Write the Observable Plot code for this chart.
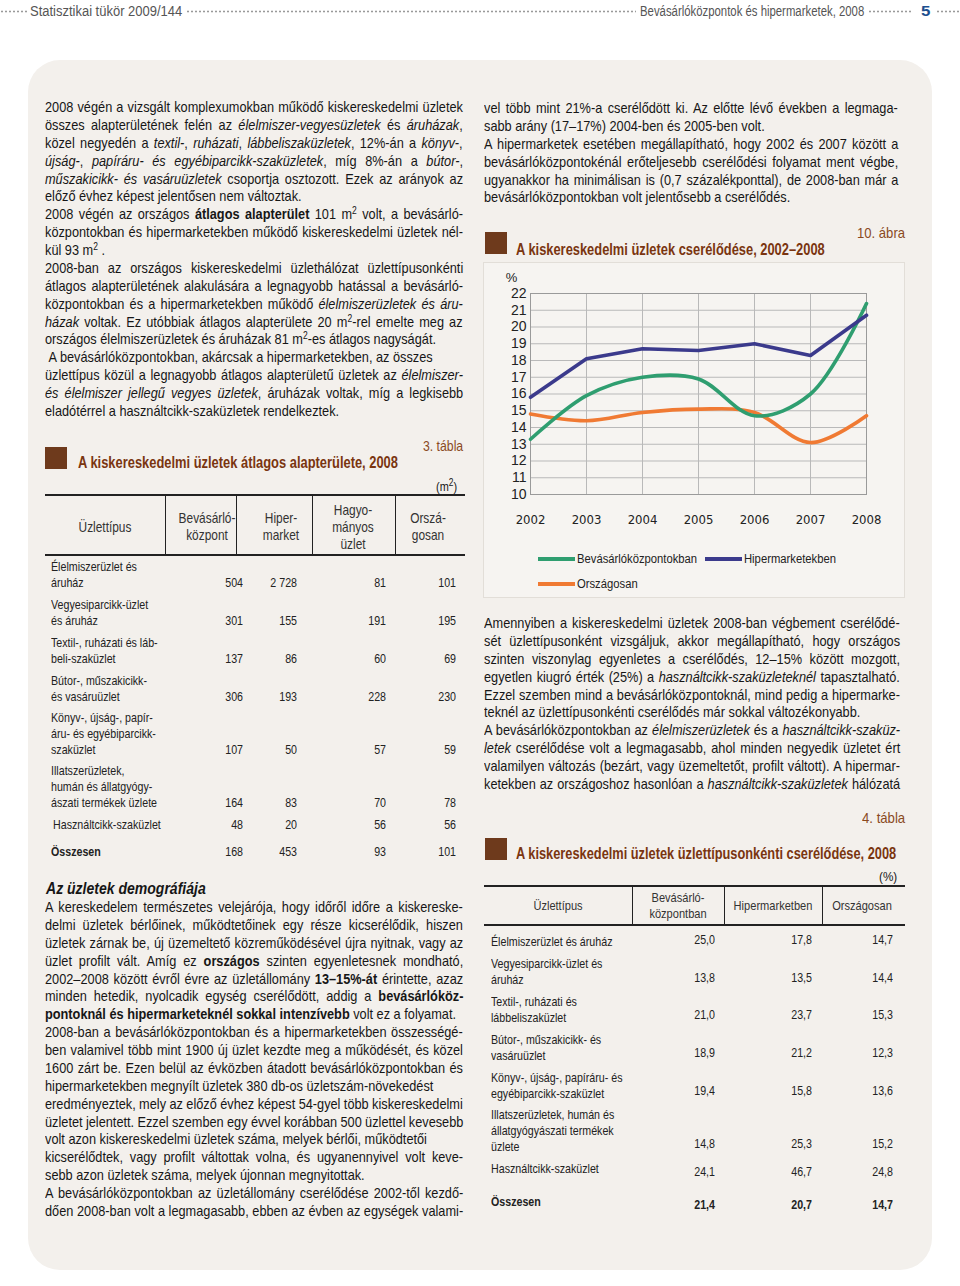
<!DOCTYPE html>
<html><head><meta charset="utf-8">
<script src="https://cdn.jsdelivr.net/npm/d3@7"></script>
<script src="https://cdn.jsdelivr.net/npm/@observablehq/plot@0.6"></script>
<style>
body{margin:0;background:#fff;width:960px;height:1286px;position:relative;overflow:hidden;font-family:"Liberation Sans",Arial,sans-serif;color:#161616;}
.abs{position:absolute}
.panel{left:28px;top:60px;width:904px;height:1210px;background:#f3f0ec;border-radius:32px;}
.dots{position:absolute;height:3px;background-image:radial-gradient(circle,#9a9a9a 0.9px,transparent 1.2px);background-size:4px 3px;}
.fit{position:absolute;white-space:nowrap;}
.hdr{font-size:14px;color:#555;line-height:16px;}
.txt{position:absolute;font-size:15px;transform-origin:0 0;}
.txt div{height:17.88px;line-height:17.88px;white-space:nowrap;}
sup{font-size:10px;line-height:0;vertical-align:5px;}
.ttl{font-weight:bold;color:#7a3510;font-size:16px;line-height:18px;}
.num{color:#8a4a1e;font-size:15px;line-height:18px;}
.sq{position:absolute;width:22px;height:22px;background:#6e3a1c;}
.cell{position:absolute;white-space:nowrap;font-size:13px;color:#222;}
.rule{position:absolute;background:#222;}
.chartbox{position:absolute;left:483px;top:262px;width:420px;height:334px;background:#f6f4f1;border:1px solid #e2ded8;}
.leg{position:absolute;font-size:12.5px;color:#222;white-space:nowrap;transform-origin:0 50%;}
</style></head>
<body>
<div class="abs panel"></div>

<!-- page header -->
<div class="dots" style="left:0;top:10px;width:27px"></div>
<div class="fit hdr" data-x="30" data-w="152" style="top:3px">Statisztikai tükör 2009/144</div>
<div class="dots" style="left:186px;top:10px;width:450px"></div>
<div class="fit hdr" data-x="640" data-w="224" style="top:3px">Bevásárlóközpontok és hipermarketek, 2008</div>
<div class="dots" style="left:868px;top:10px;width:44px"></div>
<div class="fit hdr" data-x="921" data-w="9" style="top:3px;font-weight:bold;color:#1d4f8f;font-size:15px">5</div>
<div class="dots" style="left:936px;top:10px;width:24px"></div>

<!-- left column top text -->
<div class="txt" data-w="418" style="left:45px;top:98px">
<div class="j">2008 végén a vizsgált komplexumokban működő kiskereskedelmi üzletek</div>
<div class="j">összes alapterületének felén az <i>élelmiszer-vegyesüzletek</i> és <i>áruházak</i>,</div>
<div class="j">közel negyedén a <i>textil-</i>, <i>ruházati</i>, <i>lábbeliszaküzletek</i>, 12%-án a <i>könyv-</i>,</div>
<div class="j"><i>újság-</i>, <i>papíráru- és egyébiparcikk-szaküzletek</i>, míg 8%-án a <i>bútor-</i>,</div>
<div class="j"><i>műszakicikk- és vasáruüzletek</i> csoportja osztozott. Ezek az arányok az</div>
<div>előző évhez képest jelentősen nem változtak.</div>
<div class="j">2008 végén az országos <b>átlagos alapterület</b> 101 m<sup>2</sup> volt, a bevásárló-</div>
<div class="j">központokban és hipermarketekben működő kiskereskedelmi üzletek nél-</div>
<div>kül 93 m<sup>2</sup> .</div>
<div class="j">2008-ban az országos kiskereskedelmi üzlethálózat üzlettípusonkénti</div>
<div class="j">átlagos alapterületének alakulására a legnagyobb hatással a bevásárló-</div>
<div class="j">központokban és a hipermarketekben működő <i>élelmiszerüzletek és áru-</i></div>
<div class="j"><i>házak</i> voltak. Ez utóbbiak átlagos alapterülete 20 m<sup>2</sup>-rel emelte meg az</div>
<div>országos élelmiszerüzletek és áruházak 81 m<sup>2</sup>-es átlagos nagyságát.</div>
<div>&nbsp;A bevásárlóközpontokban, akárcsak a hipermarketekben, az összes</div>
<div class="j">üzlettípus közül a legnagyobb átlagos alapterületű üzletek az <i>élelmiszer-</i></div>
<div class="j"><i>és élelmiszer jellegű vegyes üzletek</i>, áruházak voltak, míg a legkisebb</div>
<div>eladótérrel a használtcikk-szaküzletek rendelkeztek.</div>
</div>

<!-- table 3 -->
<div class="fit num" data-x="423" data-w="40" style="top:437px">3. tábla</div>
<div class="sq" style="left:45px;top:447px"></div>
<div class="fit ttl" data-x="78" data-w="320" style="top:454px">A kiskereskedelmi üzletek átlagos alapterülete, 2008</div>
<div class="fit" data-x="436" data-w="21" style="top:479px;font-size:13px;line-height:16px">(m<sup>2</sup>)</div>
<div id="t3"></div>

<!-- demography -->
<div class="fit" data-x="46" data-w="160" style="top:879px;font-weight:bold;font-style:italic;font-size:17px;line-height:20px">Az üzletek demográfiája</div>
<div class="txt" data-w="418" style="left:45px;top:898px">
<div class="j">A kereskedelem természetes velejárója, hogy időről időre a kiskereske-</div>
<div class="j">delmi üzletek bérlőinek, működtetőinek egy része kicserélődik, hiszen</div>
<div class="j">üzletek zárnak be, új üzemeltető közreműködésével újra nyitnak, vagy az</div>
<div class="j">üzlet profilt vált. Amíg ez <b>országos</b> szinten egyenletesnek mondható,</div>
<div class="j">2002–2008 között évről évre az üzletállomány <b>13–15%-át</b> érintette, azaz</div>
<div class="j">minden hetedik, nyolcadik egység cserélődött, addig a <b>bevásárlóköz-</b></div>
<div><b>pontoknál és hipermarketeknél sokkal intenzívebb</b> volt ez a folyamat.</div>
<div class="j">2008-ban a bevásárlóközpontokban és a hipermarketekben összességé-</div>
<div class="j">ben valamivel több mint 1900 új üzlet kezdte meg a működését, és közel</div>
<div class="j">1600 zárt be. Ezen belül az évközben átadott bevásárlóközpontokban és</div>
<div>hipermarketekben megnyílt üzletek 380 db-os üzletszám-növekedést</div>
<div class="j">eredményeztek, mely az előző évhez képest 54-gyel több kiskereskedelmi</div>
<div class="j">üzletet jelentett. Ezzel szemben egy évvel korábban 500 üzlettel kevesebb</div>
<div>volt azon kiskereskedelmi üzletek száma, melyek bérlői, működtetői</div>
<div class="j">kicserélődtek, vagy profilt váltottak volna, és ugyanennyivel volt keve-</div>
<div>sebb azon üzletek száma, melyek újonnan megnyitottak.</div>
<div class="j">A bevásárlóközpontokban az üzletállomány cserélődése 2002-től kezdő-</div>
<div class="j">dően 2008-ban volt a legmagasabb, ebben az évben az egységek valami-</div>
</div>

<!-- right column top text -->
<div class="txt" data-w="414" style="left:484px;top:99px">
<div class="j">vel több mint 21%-a cserélődött ki. Az előtte lévő években a legmaga-</div>
<div>sabb arány (17–17%) 2004-ben és 2005-ben volt.</div>
<div class="j">A hipermarketek esetében megállapítható, hogy 2002 és 2007 között a</div>
<div class="j">bevásárlóközpontokénál erőteljesebb cserélődési folyamat ment végbe,</div>
<div class="j">ugyanakkor ha minimálisan is (0,7 százalékponttal), de 2008-ban már a</div>
<div>bevásárlóközpontokban volt jelentősebb a cserélődés.</div>
</div>

<!-- figure 10 -->
<div class="fit num" data-x="857" data-w="48" style="top:224px">10. ábra</div>
<div class="sq" style="left:485px;top:232px"></div>
<div class="fit ttl" data-x="516" data-w="309" style="top:241px">A kiskereskedelmi üzletek cserélődése, 2002–2008</div>
<div class="chartbox"></div>
<div id="chart" class="abs" style="left:483px;top:262px"></div>
<div id="legend"></div>

<!-- right column middle text -->
<div class="txt" data-w="416" style="left:484px;top:614px">
<div class="j">Amennyiben a kiskereskedelmi üzletek 2008-ban végbement cserélődé-</div>
<div class="j">sét üzlettípusonként vizsgáljuk, akkor megállapítható, hogy országos</div>
<div class="j">szinten viszonylag egyenletes a cserélődés, 12–15% között mozgott,</div>
<div class="j">egyetlen kiugró érték (25%) a <i>használtcikk-szaküzleteknél</i> tapasztalható.</div>
<div class="j">Ezzel szemben mind a bevásárlóközpontoknál, mind pedig a hipermarke-</div>
<div>teknél az üzlettípusonkénti cserélődés már sokkal változékonyabb.</div>
<div class="j">A bevásárlóközpontokban az <i>élelmiszerüzletek</i> és a <i>használtcikk-szaküz-</i></div>
<div class="j"><i>letek</i> cserélődése volt a legmagasabb, ahol minden negyedik üzletet ért</div>
<div class="j">valamilyen változás (bezárt, vagy üzemeltetőt, profilt váltott). A hipermar-</div>
<div class="j">ketekben az országoshoz hasonlóan a <i>használtcikk-szaküzletek</i> hálózatá</div>
</div>

<!-- table 4 -->
<div class="fit num" data-x="862" data-w="43" style="top:809px">4. tábla</div>
<div class="sq" style="left:485px;top:838px"></div>
<div class="fit ttl" data-x="516" data-w="380" style="top:845px">A kiskereskedelmi üzletek üzlettípusonkénti cserélődése, 2008</div>
<div class="fit" data-x="879" data-w="18" style="top:869px;font-size:13px;line-height:16px">(%)</div>
<div id="t4"></div>

<script>
// ---- chart data (10. ábra) ----
const years = [2002, 2003, 2004, 2005, 2006, 2007, 2008];
const bevasarlokozpontokban = [13.3, 15.9, 17.0, 16.9, 14.7, 16.0, 21.4];
const hipermarketekben = [15.8, 18.1, 18.7, 18.6, 19.0, 18.3, 20.7];
const orszagosan = [14.8, 14.4, 14.9, 15.1, 14.9, 13.1, 14.7];
const seriesNames = ["Bevásárlóközpontokban", "Hipermarketekben", "Országosan"];
const seriesColors = ["#2f9e70", "#3b3a8c", "#f07a33"];
const yTicks = [10, 11, 12, 13, 14, 15, 16, 17, 18, 19, 20, 21, 22];

// ---- table 3 data ----
const t3Header = [["Üzlettípus"], ["Bevásárló-", "központ"], ["Hiper-", "market"], ["Hagyo-", "mányos", "üzlet"], ["Orszá-", "gosan"]];
const t3Labels = [["Élelmiszerüzlet és", "áruház"], ["Vegyesiparcikk-üzlet", "és áruház"], ["Textil-, ruházati és láb-", "beli-szaküzlet"], ["Bútor-, műszakicikk-", "és vasáruüzlet"], ["Könyv-, újság-, papír-", "áru- és egyébiparcikk-", "szaküzlet"], ["Illatszerüzletek,", "humán és állatgyógy-", "ászati termékek üzlete"], ["Használtcikk-szaküzlet"], ["Összesen"]];
const t3Values = [["504", "2 728", "81", "101"], ["301", "155", "191", "195"], ["137", "86", "60", "69"], ["306", "193", "228", "230"], ["107", "50", "57", "59"], ["164", "83", "70", "78"], ["48", "20", "56", "56"], ["168", "453", "93", "101"]];

// ---- table 4 data ----
const t4Header = [["Üzlettípus"], ["Bevásárló-", "központban"], ["Hipermarketben"], ["Országosan"]];
const t4Labels = [["Élelmiszerüzlet és áruház"], ["Vegyesiparcikk-üzlet és", "áruház"], ["Textil-, ruházati és", "lábbeliszaküzlet"], ["Bútor-, műszakicikk- és", "vasáruüzlet"], ["Könyv-, újság-, papíráru- és", "egyébiparcikk-szaküzlet"], ["Illatszerüzletek, humán és", "állatgyógyászati termékek", "üzlete"], ["Használtcikk-szaküzlet"], ["Összesen"]];
const t4Values = [["25,0", "17,8", "14,7"], ["13,8", "13,5", "14,4"], ["21,0", "23,7", "15,3"], ["18,9", "21,2", "12,3"], ["19,4", "15,8", "13,6"], ["14,8", "25,3", "15,2"], ["24,1", "46,7", "24,8"], ["21,4", "20,7", "14,7"]];

// ---------- chart ----------
const seriesValues = [bevasarlokozpontokban, hipermarketekben, orszagosan];
const rows = [];
seriesNames.forEach((name, s) => years.forEach((yr, i) => rows.push({series: name, year: yr, value: seriesValues[s][i]})));
const bySeries = name => rows.filter(d => d.series === name);

const plot = Plot.plot({
  width: 422, height: 275,
  marginLeft: 47, marginRight: 39, marginTop: 31, marginBottom: 43,
  style: {background: "transparent", fontFamily: '"Liberation Sans", Arial, sans-serif', color: "#222", overflow: "visible"},
  x: {domain: [2002, 2008], axis: null},
  y: {domain: [10, 22], axis: null},
  color: {domain: seriesNames, range: seriesColors},
  marks: [
    Plot.gridX(years, {stroke: "#b9b9b9", strokeOpacity: 1}),
    Plot.gridY(yTicks, {stroke: "#b9b9b9", strokeOpacity: 1}),
    Plot.frame({stroke: "#9a9a9a"}),
    Plot.axisX(years, {tickSize: 0, tickPadding: 20, tickFormat: d => String(d), fontSize: 13, fontFamily: '"DejaVu Sans Condensed",sans-serif', label: null}),
    Plot.axisY(yTicks, {tickSize: 0, tickPadding: 4, fontSize: 14, label: null}),
    Plot.text(["%"], {frameAnchor: "top-left", dx: -19, dy: -16, textAnchor: "middle", lineAnchor: "middle", fontSize: 13}),
    Plot.line(bySeries(seriesNames[2]), {x: "year", y: "value", stroke: "series", strokeWidth: 3.6, curve: "catmull-rom"}),
    Plot.line(bySeries(seriesNames[0]), {x: "year", y: "value", stroke: "series", strokeWidth: 3.6, curve: "catmull-rom"}),
    Plot.line(bySeries(seriesNames[1]), {x: "year", y: "value", stroke: "series", strokeWidth: 3.6, curve: "linear"})
  ]
});
document.getElementById("chart").appendChild(plot);

// legend (HTML below the svg)
const legPos = [[538, 559], [705, 559], [538, 584]];
const legend = document.getElementById("legend");
seriesNames.forEach((name, i) => {
  const [x, y] = legPos[i];
  const sw = document.createElement("div");
  sw.className = "abs";
  sw.style.cssText = `left:${x}px;top:${y - 2}px;width:37px;height:4px;background:${seriesColors[i]}`;
  legend.appendChild(sw);
  const t = document.createElement("div");
  t.className = "leg";
  t.style.cssText = `left:${x + 39}px;top:${y - 8}px;line-height:16px;transform:scaleX(0.9)`;
  t.textContent = name;
  legend.appendChild(t);
});

// ---------- layout helpers ----------
const S = 0.82;  // condensed factor for tables
const SP = 0.85; // condensed factor for running text
function put(parent, cls, css, html) {
  const d = document.createElement("div");
  d.className = cls; d.style.cssText = css; d.innerHTML = html;
  parent.appendChild(d); return d;
}
function lines(parent, arr, x, lastY, lh, css, align) {
  const top = lastY - (arr.length - 1) * lh - lh / 2;
  const w = align === "center" ? `left:${x - 80}px;width:160px;text-align:center;transform-origin:50% 0;` : `left:${x}px;transform-origin:0 0;`;
  put(parent, "cell", `${w}top:${top}px;line-height:${lh}px;transform:scaleX(${S});${css}`, arr.join("<br>"));
}
function valueCell(parent, v, right, y, css) {
  put(parent, "cell", `left:${right - 60}px;width:60px;text-align:right;top:${y - 8}px;line-height:16px;transform-origin:100% 0;transform:scaleX(${S});${css}`, v);
}

// table 3
{
  const p = document.getElementById("t3");
  const L = 45, R = 465, top = 495, hb = 555;
  put(p, "rule", `left:${L}px;top:${top - 1}px;width:${R - L}px;height:2px`, "");
  put(p, "rule", `left:${L}px;top:${hb - 1}px;width:${R - L}px;height:1.5px`, "");
  [165, 236, 312, 395].forEach(x => put(p, "rule", `left:${x}px;top:${top}px;width:1px;height:${hb - top}px`, ""));
  const hx = [105, 207, 281, 353, 428];
  t3Header.forEach((h, i) => {
    const lh = 17;
    lines(p, h, hx[i], 527 + (h.length - 1) * lh / 2, lh, "font-size:14.5px;color:#333", "center");
  });
  const rowY = [583, 621, 659, 697, 750, 803, 825, 852];
  const colR = [243, 297, 386, 456];
  t3Labels.forEach((lab, r) => {
    const bold = r === t3Labels.length - 1 ? "font-weight:bold;" : "";
    lines(p, lab, r === 6 ? 53 : 51, rowY[r], 16, bold);
    t3Values[r].forEach((v, c) => valueCell(p, v, colR[c], rowY[r], ""));
  });
}

// table 4
{
  const p = document.getElementById("t4");
  const L = 484, R = 905, top = 886, hb = 925;
  put(p, "rule", `left:${L}px;top:${top - 1}px;width:${R - L}px;height:2px`, "");
  put(p, "rule", `left:${L}px;top:${hb - 1}px;width:${R - L}px;height:1.5px`, "");
  [632, 724, 822].forEach(x => put(p, "rule", `left:${x}px;top:${top}px;width:1px;height:${hb - top}px`, ""));
  const hx = [558, 678, 773, 862];
  t4Header.forEach((h, i) => {
    const lh = 16;
    lines(p, h, hx[i], 906 + (h.length - 1) * lh / 2, lh, "font-size:13.5px;color:#333", "center");
  });
  const labY = [942, 980, 1018, 1056, 1094, 1147, 1169, 1202];
  const valY = [940, 978, 1015, 1053, 1091, 1144, 1172, 1205];
  const colR = [715, 812, 893];
  t4Labels.forEach((lab, r) => {
    const bold = r === t4Labels.length - 1 ? "font-weight:bold;" : "";
    lines(p, lab, 491, labY[r], 16, bold);
    t4Values[r].forEach((v, c) => valueCell(p, v, colR[c], valY[r], bold));
  });
}

// fit single-line texts to their measured width in the reference
document.querySelectorAll(".fit").forEach(el => {
  el.style.left = el.dataset.x + "px";
  const nat = el.offsetWidth;
  el.style.transformOrigin = "0 0";
  el.style.transform = `scaleX(${(+el.dataset.w) / nat})`;
});

// condensed, justified paragraphs
document.querySelectorAll(".txt").forEach(block => {
  const W = +block.dataset.w / SP;
  block.style.width = W + "px";
  block.style.transform = `scaleX(${SP})`;
  block.querySelectorAll("div").forEach(line => {
    line.innerHTML = `<span>${line.innerHTML}</span>`;
    if (!line.classList.contains("j")) return;
    const nat = line.firstElementChild.offsetWidth;
    const n = (line.textContent.match(/ /g) || []).length;
    if (n > 0) line.style.wordSpacing = ((W - nat) / n) + "px";
  });
});
</script>
</body></html>
